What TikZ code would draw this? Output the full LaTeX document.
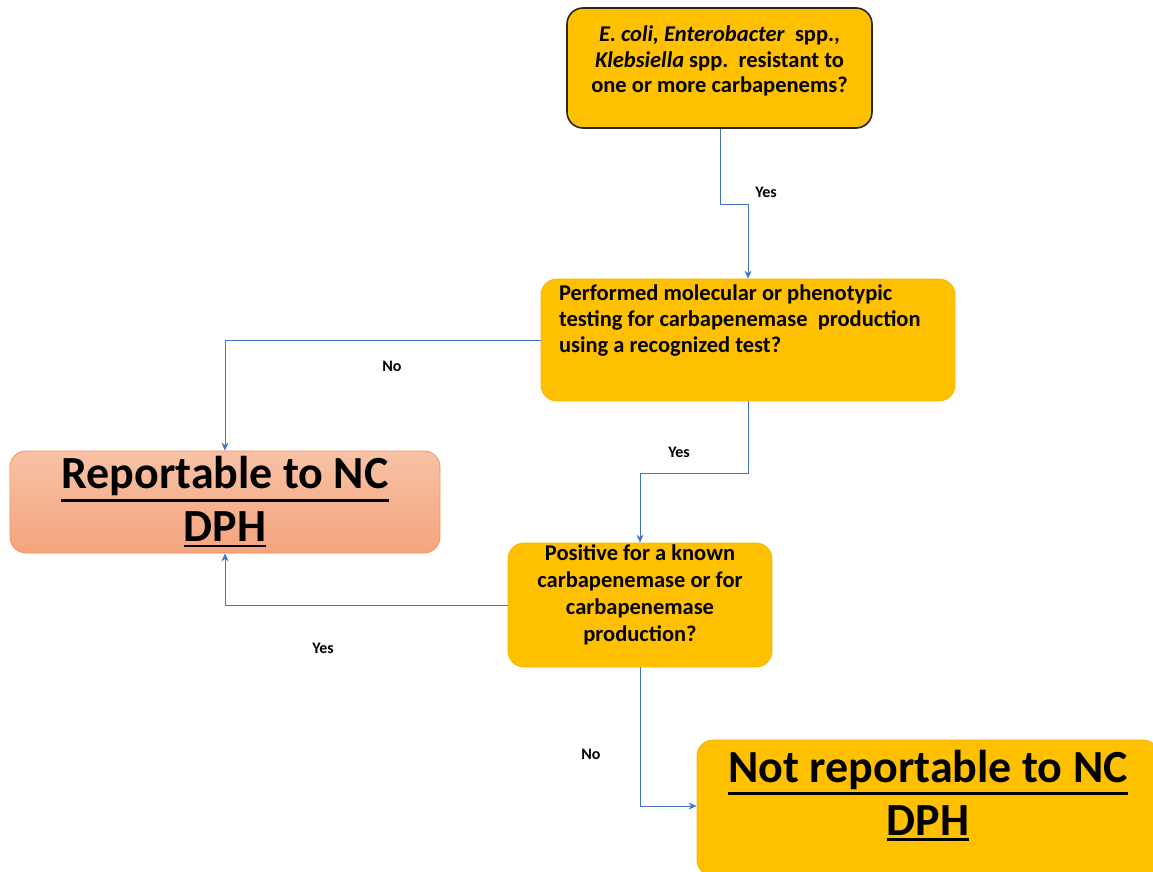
\documentclass[tikz,border=0pt]{standalone}
\usepackage{fontspec}
\setmainfont{Carlito}
\usetikzlibrary{arrows.meta}
\definecolor{gold}{HTML}{FFC000}
\definecolor{goldedge}{HTML}{F2B800}
\definecolor{salmontop}{HTML}{F8C2A6}
\definecolor{salmonbot}{HTML}{F4A47C}
\definecolor{salmonedge}{HTML}{F0945F}
\definecolor{conn}{HTML}{4472C4}
\newlength{\ulgap}
\newcommand{\thickul}[1]{\setbox0=\hbox{#1}\ulgap=\dp0\advance\ulgap by 5.5pt\leavevmode\rlap{\rule[-\ulgap]{\wd0}{2.6pt}}\box0}
\tikzset{
  qbox/.style={draw=goldedge, line width=0.8pt, fill=gold, rounded corners=16pt, inner sep=0pt, font=\bfseries\fontsize{22.5}{26}\selectfont},
  bigbox/.style={rounded corners=16pt, inner sep=0pt, font=\bfseries\fontsize{46}{53}\selectfont},
  link/.style={draw=conn, line width=0.9pt, -{Stealth[length=8pt,width=7pt]}},
  lbl/.style={font=\bfseries\fontsize{16}{18}\selectfont, inner sep=0pt}
}
\begin{document}
\begin{tikzpicture}[x=1pt,y=-1pt]
\useasboundingbox (0,0) rectangle (1153,871);
\clip (0,0) rectangle (1153,871);
\fill[white] (0,0) rectangle (1153,871);

% top question
\node[qbox, draw=black!85, line width=1.6pt, minimum width=305pt, minimum height=120pt] (q1) at (719.5,68)
  {\parbox[c][116pt][t]{300pt}{\centering\fontsize{22.5}{25.5}\selectfont\vspace*{16pt}\textit{E. coli, Enterobacter}\ \ spp.,\\ \textit{Klebsiella} spp.\ \ resistant to\\ one or more carbapenems?}};

% second question
\node[qbox, minimum width=414pt, minimum height=122pt] (q2) at (748,340)
  {\parbox[c][118pt][t]{378pt}{\raggedright\vspace*{4pt}Performed molecular or phenotypic\\ testing for carbapenemase\ \ production\\ using a recognized test?}};

% reportable
\node[bigbox, draw=salmonedge, line width=0.8pt, top color=salmontop, bottom color=salmonbot, minimum width=430pt, minimum height=102pt, align=center] (rep) at (225,502)
  {\thickul{Reportable to NC}\\ \thickul{DPH}};

% third question
\node[qbox, minimum width=264pt, minimum height=124pt] (q3) at (640,605)
  {\parbox[c][122pt][t]{260pt}{\centering\fontsize{22.5}{27}\selectfont\vspace*{1pt}Positive for a known\\ carbapenemase\ or for\\ carbapenemase\\ production?}};

% not reportable
\node[bigbox, draw=goldedge, line width=0.8pt, fill=gold, minimum width=462pt, minimum height=136pt] (nrep) at (928,808)
  {\parbox[c][134pt][t]{460pt}{\centering\vspace*{9pt}\thickul{Not reportable to NC}\\ \thickul{DPH}}};

% connectors
\coordinate (a1) at (720,204);
\coordinate (a2) at (748,204);
\draw[link] (q1.south -| a1) -- (a1) -- (a2) -- (q2.north -| a2);
\node[lbl] at (766,192) {Yes};

\coordinate (b1) at (225,340);
\draw[link] (q2.west) -- (b1) -- (rep.north);
\node[lbl] at (392,366) {No};

\coordinate (c1) at (748,473);
\coordinate (c2) at (640,473);
\draw[link] (q2.south) -- (c1) -- (c2) -- (q3.north);
\node[lbl] at (679,452) {Yes};

\coordinate (d1) at (225,605);
\draw[link] (q3.west) -- (d1) -- (rep.south);
\node[lbl] at (323,648) {Yes};

\coordinate (e1) at (640,806);
\draw[link] (q3.south) -- (e1) -- (nrep.west |- e1);
\node[lbl] at (591,754) {No};
\end{tikzpicture}
\end{document}
